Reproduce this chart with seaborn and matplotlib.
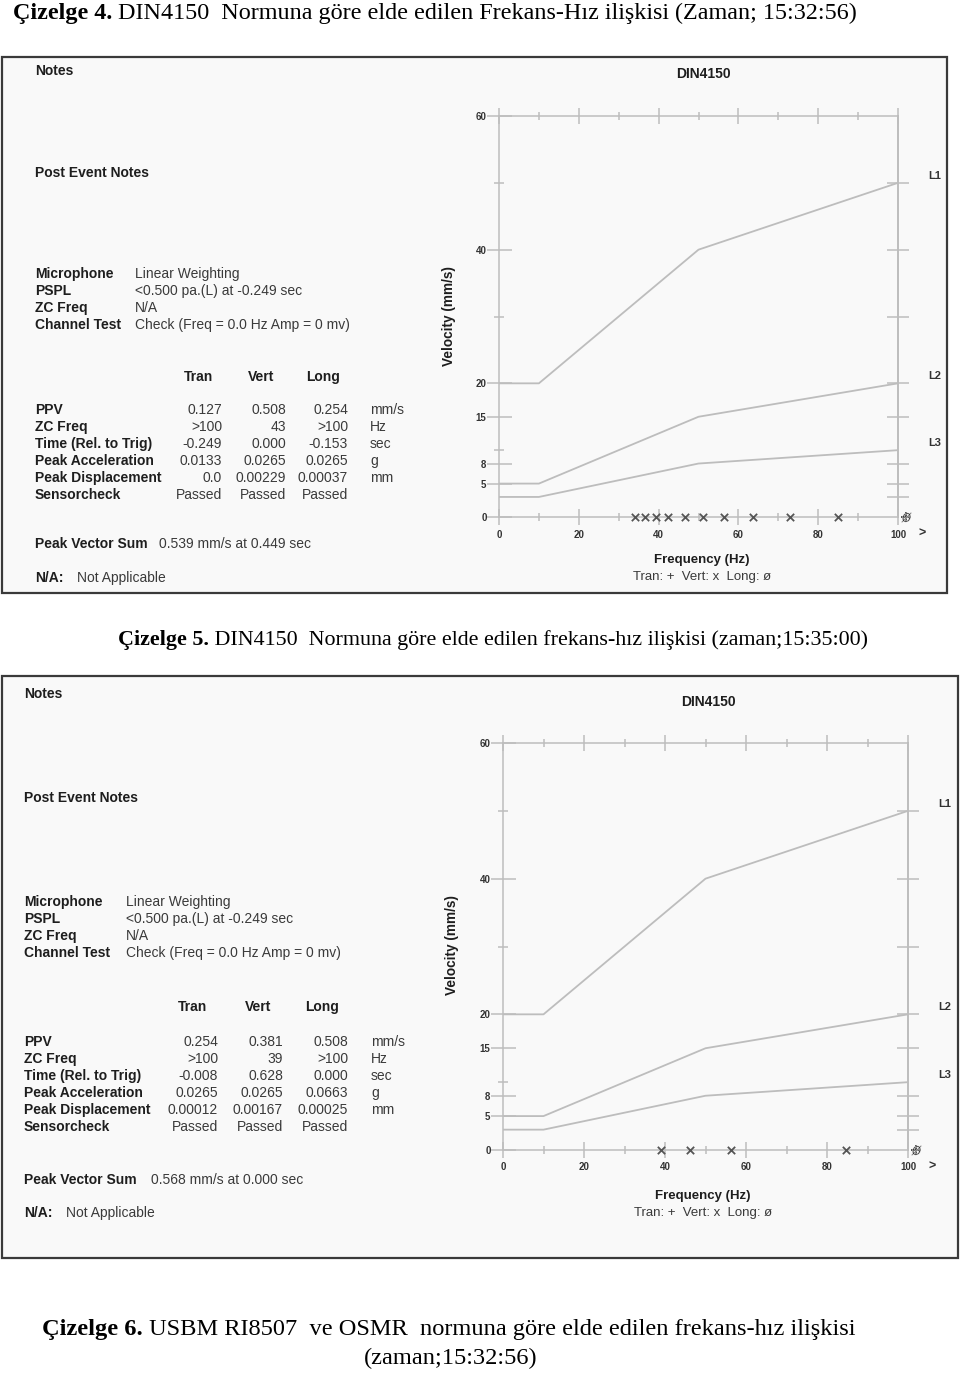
import numpy as np
import pandas as pd
import matplotlib
matplotlib.use("Agg")
import matplotlib.pyplot as plt
import seaborn as sns
from matplotlib.patches import Rectangle

sns.set_theme(style="ticks")
plt.rcParams['font.family'] = ['Liberation Sans', 'DejaVu Sans']

# ---------------- data ----------------
limit_freq = [0, 10, 50, 100]
limit_L1 = [20, 20, 40, 50]
limit_L2 = [5, 5, 15, 20]
limit_L3 = [3, 3, 8, 10]
limit_names = ["L1", "L2", "L3"]
y_major = [0, 5, 8, 15, 20, 40, 60]
y_minor = [10, 30, 50]
y_right = [3, 5, 8, 15, 20, 30, 40, 50]
x_major = [0, 20, 40, 60, 80, 100]
x_minor = [10, 30, 50, 70, 90]

vert_peaks_1 = [34.0, 36.5, 39.4, 42.3, 46.5, 51.1, 56.5, 63.6, 72.9, 85.0]
vert_peaks_2 = [39.1, 46.1, 56.4, 84.8]
over_range_freq = 102   # plotted position of ">100 Hz" (Tran / Long)

row_labels = ["PPV", "ZC Freq", "Time (Rel. to Trig)", "Peak Acceleration",
              "Peak Displacement", "Sensorcheck"]
row_units = ["mm/s", "Hz", "sec", "g", "mm", ""]
tran_1 = ["0.127", ">100", "-0.249", "0.0133", "0.0", "Passed"]
vert_1 = ["0.508", "43", "0.000", "0.0265", "0.00229", "Passed"]
long_1 = ["0.254", ">100", "-0.153", "0.0265", "0.00037", "Passed"]
tran_2 = ["0.254", ">100", "-0.008", "0.0265", "0.00012", "Passed"]
vert_2 = ["0.381", "39", "0.628", "0.0265", "0.00167", "Passed"]
long_2 = ["0.508", ">100", "0.000", "0.0663", "0.00025", "Passed"]
pvs_1 = "0.539 mm/s at 0.449 sec"
pvs_2 = "0.568 mm/s at 0.000 sec"
mic_labels = ["Microphone", "PSPL", "ZC Freq", "Channel Test"]
mic_values = ["Linear Weighting", "<0.500 pa.(L) at -0.249 sec", "N/A",
              "Check (Freq = 0.0 Hz Amp = 0 mv)"]

captions = [
    ("Çizelge 4.", " DIN4150  Normuna göre elde edilen Frekans-Hız ilişkisi (Zaman; 15:32:56)"),
    ("Çizelge 5.", " DIN4150  Normuna göre elde edilen frekans-hız ilişkisi (zaman;15:35:00)"),
    ("Çizelge 6.", " USBM RI8507  ve OSMR  normuna göre elde edilen frekans-hız ilişkisi"),
]
caption_3b = "(zaman;15:32:56)"

# ---------------- figure ----------------
W, H = 960, 1373
fig = plt.figure(figsize=(W / 100, H / 100), dpi=100)
fig.patch.set_facecolor("white")
bg = fig.add_axes([0, 0, 1, 1], zorder=0)
bg.set_xlim(0, W)
bg.set_ylim(H, 0)
bg.axis("off")

SERIF = ["Liberation Serif", "DejaVu Serif"]
DARK = "#1e1e1e"
VAL = "#3a3a3a"
LINE = "#bdbdbd"


def caption(x, y, bold, normal, fs):
    t = bg.text(x, y, bold, family=SERIF, fontsize=fs, fontweight="bold",
                va="center", ha="left", color="black")
    bg.annotate(normal, xy=(1, 0), xycoords=t, va="bottom", ha="left",
                family=SERIF, fontsize=fs, color="black")


caption(13, 14, *captions[0], 17.4)
caption(118, 640, *captions[1], 15.8)
caption(42, 1330, *captions[2], 17.6)
bg.text(451, 1358, caption_3b, family=SERIF, fontsize=17.6, va="center",
        ha="center", color="black")

# boxes
for (x0, y0, x1, y1) in [(2, 57, 947, 593), (2, 676, 958, 1258)]:
    bg.add_patch(Rectangle((x0, y0), x1 - x0, y1 - y0, facecolor="#f9f9f9",
                           edgecolor="#3a3a3a", lw=1.6))


def panel(lx, vx, y_notes, y_post, y_mic, y_head, head_x, y_rows, col_right,
          unit_x, y_pvs, pvs_x, pvs, y_na, na_x, tran, vert, long_):
    fs = 10
    bg.text(lx, y_notes, "Notes", fontsize=fs, fontweight="bold", va="center", color=DARK)
    bg.text(lx, y_post, "Post Event Notes", fontsize=fs, fontweight="bold", va="center", color=DARK)
    for i, (lab, val) in enumerate(zip(mic_labels, mic_values)):
        yy = y_mic + i * 17
        bg.text(lx, yy, lab, fontsize=fs, fontweight="bold", va="center", color=DARK)
        bg.text(vx, yy, val, fontsize=fs, va="center", color=VAL)
    for hx, h in zip(head_x, ["Tran", "Vert", "Long"]):
        bg.text(hx, y_head, h, fontsize=fs, fontweight="bold", va="center",
                ha="center", color=DARK)
    for i, lab in enumerate(row_labels):
        yy = y_rows + i * 17
        bg.text(lx, yy, lab, fontsize=fs, fontweight="bold", va="center", color=DARK)
        for cx, col in zip(col_right, [tran, vert, long_]):
            bg.text(cx, yy, col[i], fontsize=fs, va="center", ha="right", color=VAL)
        bg.text(unit_x, yy, row_units[i], fontsize=fs, va="center", color=VAL)
    bg.text(lx, y_pvs, "Peak Vector Sum", fontsize=fs, fontweight="bold", va="center", color=DARK)
    bg.text(pvs_x, y_pvs, pvs, fontsize=fs, va="center", color=VAL)
    bg.text(lx, y_na, "N/A:", fontsize=fs, fontweight="bold", va="center", color=DARK)
    bg.text(na_x, y_na, "Not Applicable", fontsize=fs, va="center", color=VAL)


panel(35, 135, 71, 173, 274, 377, [198, 261, 323], 410, [222, 286, 348], 370,
      544, 159, pvs_1, 578, 77, tran_1, vert_1, long_1)
panel(24, 126, 694, 798, 902, 1007, [192, 258, 322], 1042, [218, 283, 348], 371,
      1180, 151, pvs_2, 1213, 66, tran_2, vert_2, long_2)

limits_df = pd.DataFrame({
    "freq": limit_freq * 3,
    "velocity": limit_L1 + limit_L2 + limit_L3,
    "limit": sum([[n] * len(limit_freq) for n in limit_names], []),
})


def chart(rect, vert_peaks, title_xy, vel_xy, freq_xy):
    l, r, t, b = rect
    ax = fig.add_axes([l / W, 1 - b / H, (r - l) / W, (b - t) / H], zorder=2)
    ax.set_facecolor("none")
    sns.lineplot(data=limits_df, x="freq", y="velocity", units="limit",
                 estimator=None, color=LINE, lw=1.3, ax=ax, legend=False)
    sns.scatterplot(x=vert_peaks, y=[0] * len(vert_peaks), marker="x",
                    color="#555555", s=28, linewidth=1.3, ax=ax, clip_on=False,
                    zorder=5)
    sns.scatterplot(x=[over_range_freq], y=[0], marker="+", color="#444444",
                    s=45, linewidth=1.3, ax=ax, clip_on=False, zorder=5)
    sns.scatterplot(x=[over_range_freq], y=[0], marker="$ø$", color="#333333",
                    s=55, linewidth=0.3, ax=ax, clip_on=False, zorder=5)
    ax.set_xlim(0, 100)
    ax.set_ylim(0, 60)
    ax.set_xlabel("")
    ax.set_ylabel("")
    for sp in ax.spines.values():
        sp.set_visible(True)
        sp.set_color(LINE)
        sp.set_linewidth(1.1)
    ax.set_xticks(x_major)
    ax.set_xticks(x_minor, minor=True)
    ax.set_yticks(y_major)
    ax.set_yticks(y_minor, minor=True)
    ax.set_xticklabels([str(v) for v in x_major])
    ax.set_yticklabels([str(v) for v in y_major])
    ax.tick_params(axis="x", which="major", direction="inout", length=12,
                   width=1.1, color=LINE, top=True, bottom=True,
                   labelsize=7, pad=3, labelcolor="#333333")
    ax.tick_params(axis="x", which="minor", direction="inout", length=6,
                   width=1.1, color=LINE, top=True, bottom=True)
    ax.tick_params(axis="y", which="major", direction="inout", length=18,
                   width=1.1, color=LINE, left=True, right=False,
                   labelsize=7, pad=0, labelcolor="#333333")
    ax.tick_params(axis="y", which="minor", direction="inout", length=7,
                   width=1.1, color=LINE, left=True, right=False)
    for lab in ax.get_xticklabels() + ax.get_yticklabels():
        lab.set_fontweight("bold")
    sec = ax.secondary_yaxis("right")
    sec.set_yticks(y_right)
    sec.set_yticklabels([])
    sec.tick_params(direction="inout", length=16, width=1.1, color=LINE)
    sec.spines["right"].set_color(LINE)
    for name, vals in zip(limit_names, [limit_L1, limit_L2, limit_L3]):
        ax.annotate(name, xy=(limit_freq[-1], vals[-1]), xytext=(22, 5),
                    textcoords="offset points", fontsize=8, fontweight="bold",
                    va="center", ha="left", color="#333333", annotation_clip=False)
    ax.annotate(">", xy=(1, 0), xycoords="axes fraction", xytext=(15, -12),
                textcoords="offset points", fontsize=9, fontweight="bold",
                va="center", ha="left", color="#333333")
    bg.text(*title_xy, "DIN4150", fontsize=10, fontweight="bold", ha="center",
            va="center", color=DARK)
    bg.text(*vel_xy, "Velocity (mm/s)", fontsize=9.8, fontweight="bold",
            ha="center", va="center", rotation=90, color=DARK)
    bg.text(freq_xy[0], freq_xy[1], "Frequency (Hz)", fontsize=9.5,
            fontweight="bold", ha="center", va="center", color=DARK)
    bg.text(freq_xy[0], freq_xy[1] + 17, "Tran: +  Vert: x  Long: ø",
            fontsize=9.5, ha="center", va="center", color=VAL)
    return ax


chart((499, 898, 116, 517), vert_peaks_1, (703, 74), (449, 316), (702, 560))
chart((503, 908, 743, 1150), vert_peaks_2, (708, 702), (452, 945), (703, 1196))

fig.savefig("out.png", dpi=100, facecolor="white")
